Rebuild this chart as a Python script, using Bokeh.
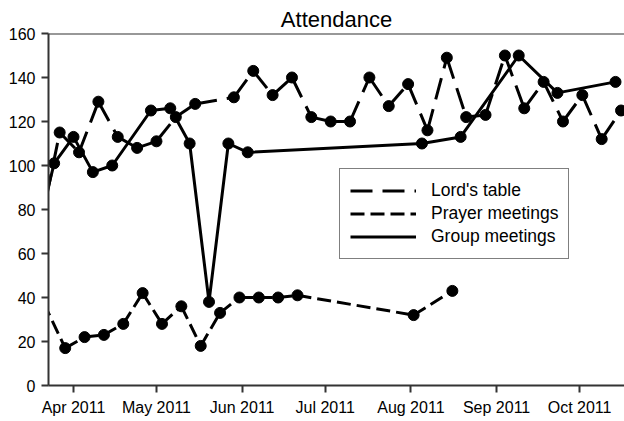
import pandas as pd
from bokeh.plotting import figure
from bokeh.models import FixedTicker, Span, Legend, LegendItem, Range1d, ColumnDataSource
from bokeh.embed import file_html
from bokeh.resources import INLINE

# ---- data ----
lord_dates = ["2011-03-20", "2011-03-27", "2011-04-03", "2011-04-10", "2011-04-17", "2011-04-24",
              "2011-05-01", "2011-05-08", "2011-05-15", "2011-05-29", "2011-06-05", "2011-06-12",
              "2011-06-19", "2011-06-26", "2011-07-03", "2011-07-10", "2011-07-17", "2011-07-24",
              "2011-07-31", "2011-08-07", "2011-08-14", "2011-08-21", "2011-08-28", "2011-09-04",
              "2011-09-11", "2011-09-18", "2011-09-25", "2011-10-02", "2011-10-09", "2011-10-16"]
lord_vals = [72, 115, 106, 129, 113, 108, 111, 122, 128, 131, 143, 132, 140, 122, 120, 120, 140,
             127, 137, 116, 149, 122, 123, 150, 126, 138, 120, 132, 112, 125]

prayer_dates = ["2011-03-15", "2011-03-29", "2011-04-05", "2011-04-12", "2011-04-19", "2011-04-26",
                "2011-05-03", "2011-05-10", "2011-05-17", "2011-05-24", "2011-05-31", "2011-06-07",
                "2011-06-14", "2011-06-21", "2011-08-02", "2011-08-16"]
prayer_vals = [54, 17, 22, 23, 28, 42, 28, 36, 18, 33, 40, 40, 40, 41, 32, 43]

group_dates = ["2011-03-18", "2011-03-25", "2011-04-01", "2011-04-08", "2011-04-15", "2011-04-29",
               "2011-05-06", "2011-05-13", "2011-05-20", "2011-05-27", "2011-06-03", "2011-08-05",
               "2011-08-19", "2011-09-09", "2011-09-23", "2011-10-14"]
group_vals = [65, 101, 113, 97, 100, 125, 126, 110, 38, 110, 106, 110, 113, 150, 133, 138]

x_tick_dates = ["2011-04-01", "2011-05-01", "2011-06-01", "2011-07-01", "2011-08-01",
                "2011-09-01", "2011-10-01"]
x_tick_labels = ["Apr 2011", "May 2011", "Jun 2011", "Jul 2011", "Aug 2011", "Sep 2011", "Oct 2011"]
y_ticks = [0, 20, 40, 60, 80, 100, 120, 140, 160]

title_text = "Attendance"
series_names = ["Lord's table", "Prayer meetings", "Group meetings"]

FONT = "Liberation Sans"
AX = "#333333"


def to_dt(lst):
    return pd.to_datetime(lst)


def seg_source(dates, vals):
    d = to_dt(dates)
    return ColumnDataSource(dict(x0=d[:-1], y0=vals[:-1], x1=d[1:], y1=vals[1:]))


p = figure(width=624, height=421, x_axis_type="datetime",
           x_range=Range1d(pd.Timestamp("2011-03-22 23:00"), pd.Timestamp("2011-10-17 06:00")),
           y_range=Range1d(0, 160),
           output_backend="svg", toolbar_location=None,
           min_border_left=48, min_border_right=0, min_border_top=33, min_border_bottom=36)

p.title.text = title_text
p.title.align = "center"
p.title.text_font = FONT
p.title.text_font_size = "22px"
p.title.text_font_style = "normal"
p.title.text_color = "black"
p.title.standoff = 4

p.outline_line_color = None
p.xgrid.visible = False
p.ygrid.visible = False

p.xaxis.ticker = FixedTicker(ticks=[pd.Timestamp(d).value / 1e6 for d in x_tick_dates])
p.xaxis.major_label_overrides = {pd.Timestamp(d).value / 1e6: l for d, l in zip(x_tick_dates, x_tick_labels)}
p.yaxis.ticker = FixedTicker(ticks=y_ticks)

for ax in (p.xaxis[0], p.yaxis[0]):
    ax.axis_line_color = AX
    ax.axis_line_width = 2
    ax.major_tick_line_color = AX
    ax.major_tick_line_width = 2
    ax.major_tick_out = 7
    ax.major_tick_in = 0
    ax.minor_tick_out = 0
    ax.minor_tick_in = 0
    ax.major_label_text_font = FONT
    ax.major_label_text_font_size = "16px"
    ax.major_label_text_color = "black"
    ax.major_label_standoff = 6

p.add_layout(Span(location=160, dimension="width", line_color=AX, line_width=2))

# Lord's table: long dashes, restarting at each point
lord_seg = p.segment("x0", "y0", "x1", "y1", source=seg_source(lord_dates, lord_vals),
                     line_color="black", line_width=3, line_dash="22 10")
p.scatter(to_dt(lord_dates), lord_vals, size=11, color="black")

# Prayer meetings: short dashes
prayer_seg = p.segment("x0", "y0", "x1", "y1", source=seg_source(prayer_dates, prayer_vals),
                       line_color="black", line_width=3, line_dash="14 6")
p.scatter(to_dt(prayer_dates), prayer_vals, size=11, color="black")

# Group meetings: solid
group_line = p.line(to_dt(group_dates), group_vals, line_color="black", line_width=3)
p.scatter(to_dt(group_dates), group_vals, size=11, color="black")

legend = Legend(items=[LegendItem(label=series_names[0], renderers=[lord_seg]),
                       LegendItem(label=series_names[1], renderers=[prayer_seg]),
                       LegendItem(label=series_names[2], renderers=[group_line])],
                location=(291, 126))
legend.glyph_width = 66
legend.glyph_height = 23
legend.label_height = 23
legend.spacing = 0
legend.padding = 10
legend.margin = 0
legend.label_standoff = 15
legend.label_text_font = FONT
legend.label_text_font_size = "17.5px"
legend.label_text_color = "black"
legend.border_line_color = "black"
legend.border_line_width = 1.5
legend.background_fill_alpha = 1
p.add_layout(legend)

open("out.html", "w").write(file_html(p, INLINE))
